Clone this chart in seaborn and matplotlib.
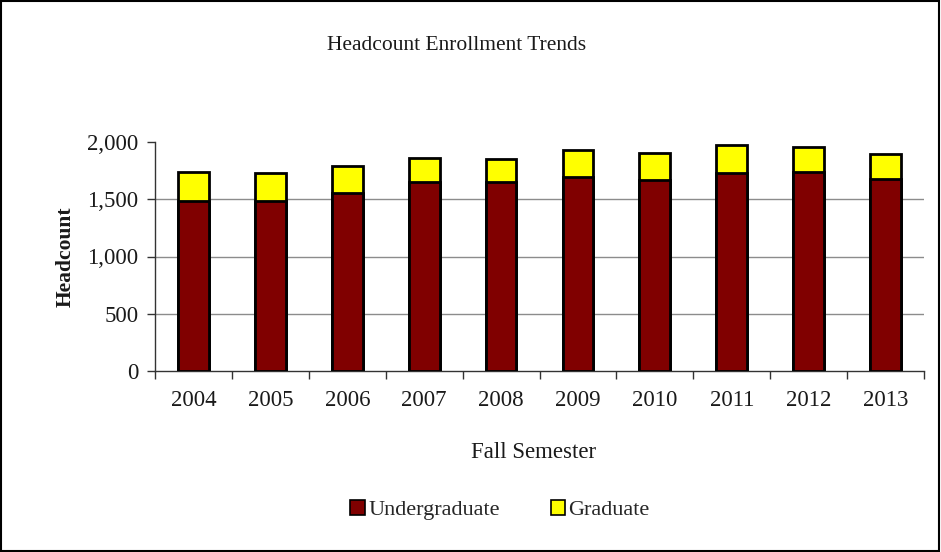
import numpy as np
import pandas as pd
import seaborn as sns
import matplotlib.pyplot as plt
from matplotlib.patches import Patch, Rectangle
from matplotlib.ticker import StrMethodFormatter

# data
years = ['2004', '2005', '2006', '2007', '2008', '2009', '2010', '2011', '2012', '2013']
undergrad = [1481, 1481, 1551, 1650, 1650, 1694, 1671, 1729, 1737, 1680]
graduate = [256, 245, 236, 210, 198, 233, 236, 244, 219, 214]

df = pd.DataFrame({'year': years, 'Undergraduate': undergrad, 'Graduate': graduate})
df['total'] = df['Undergraduate'] + df['Graduate']

# styling
sns.set_theme(style='white')
plt.rcParams['font.family'] = ['Liberation Serif', 'DejaVu Serif']
ug_color = '#800000'
gr_color = '#FFFF00'
txt = '#1a1a1a'

fig = plt.figure(figsize=(9.41, 5.52), dpi=100)
ax = fig.add_axes([155 / 941, 1 - 371 / 552, 769 / 941, 229 / 552])

# stacked bars: total (graduate on top) first, then undergraduate over it
sns.barplot(data=df, x='year', y='total', color=gr_color, edgecolor='black',
            linewidth=2, width=0.4, saturation=1, ax=ax, zorder=3)
sns.barplot(data=df, x='year', y='Undergraduate', color=ug_color, edgecolor='black',
            linewidth=2, width=0.4, saturation=1, ax=ax, zorder=4)

# axes
ax.set_ylim(0, 2000)
ax.set_xlim(-0.5, len(years) - 0.5)
ax.set_yticks([0, 500, 1000, 1500, 2000])
ax.yaxis.set_major_formatter(StrMethodFormatter('{x:,.0f}'))
for y in [500, 1000, 1500]:
    ax.axhline(y, color='#8c8c8c', linewidth=1, zorder=1)

ax.set_xticks(np.arange(-0.5, len(years), 1))
ax.set_xticklabels([''] * (len(years) + 1))
ax.set_xticks(range(len(years)), minor=True)
ax.set_xticklabels(years, minor=True)
ax.tick_params(axis='x', which='major', length=6, width=1, color='#333333', direction='out', bottom=True)
ax.tick_params(axis='x', which='minor', length=0, labelsize=16.5, pad=14, labelcolor=txt)
ax.tick_params(axis='y', length=6, width=1, color='#333333', direction='out', left=True,
               labelsize=16.5, pad=6, labelcolor=txt)

for s in ['top', 'right']:
    ax.spines[s].set_visible(False)
for s in ['left', 'bottom']:
    ax.spines[s].set_color('#333333')
    ax.spines[s].set_linewidth(1)

ax.set_xlabel('')
ax.set_ylabel('Headcount', fontsize=15.5, fontweight='bold', labelpad=8, color=txt)
fig.text(457 / 941, 1 - 45 / 552, 'Headcount Enrollment Trends', ha='center', va='center',
         fontsize=15.5, color=txt)
fig.text(534 / 941, 1 - 453 / 552, 'Fall Semester', ha='center', va='center',
         fontsize=16.5, color=txt)

# legend
handles = [Patch(facecolor=ug_color, edgecolor='black', linewidth=1.2, label='Undergraduate'),
           Patch(facecolor=gr_color, edgecolor='black', linewidth=1.2, label='Graduate')]
fig.legend(handles=handles, loc='center', bbox_to_anchor=(500 / 941, 1 - 510 / 552), ncol=2,
           frameon=False, fontsize=16, handlelength=0.65, handleheight=0.65,
           handletextpad=0.15, columnspacing=2.3)

# outer border
fig.patches.append(Rectangle((0.001, 0.002), 0.997, 0.996, transform=fig.transFigure,
                             fill=False, edgecolor='black', linewidth=1.5))

fig.savefig('out.png', dpi=100)
